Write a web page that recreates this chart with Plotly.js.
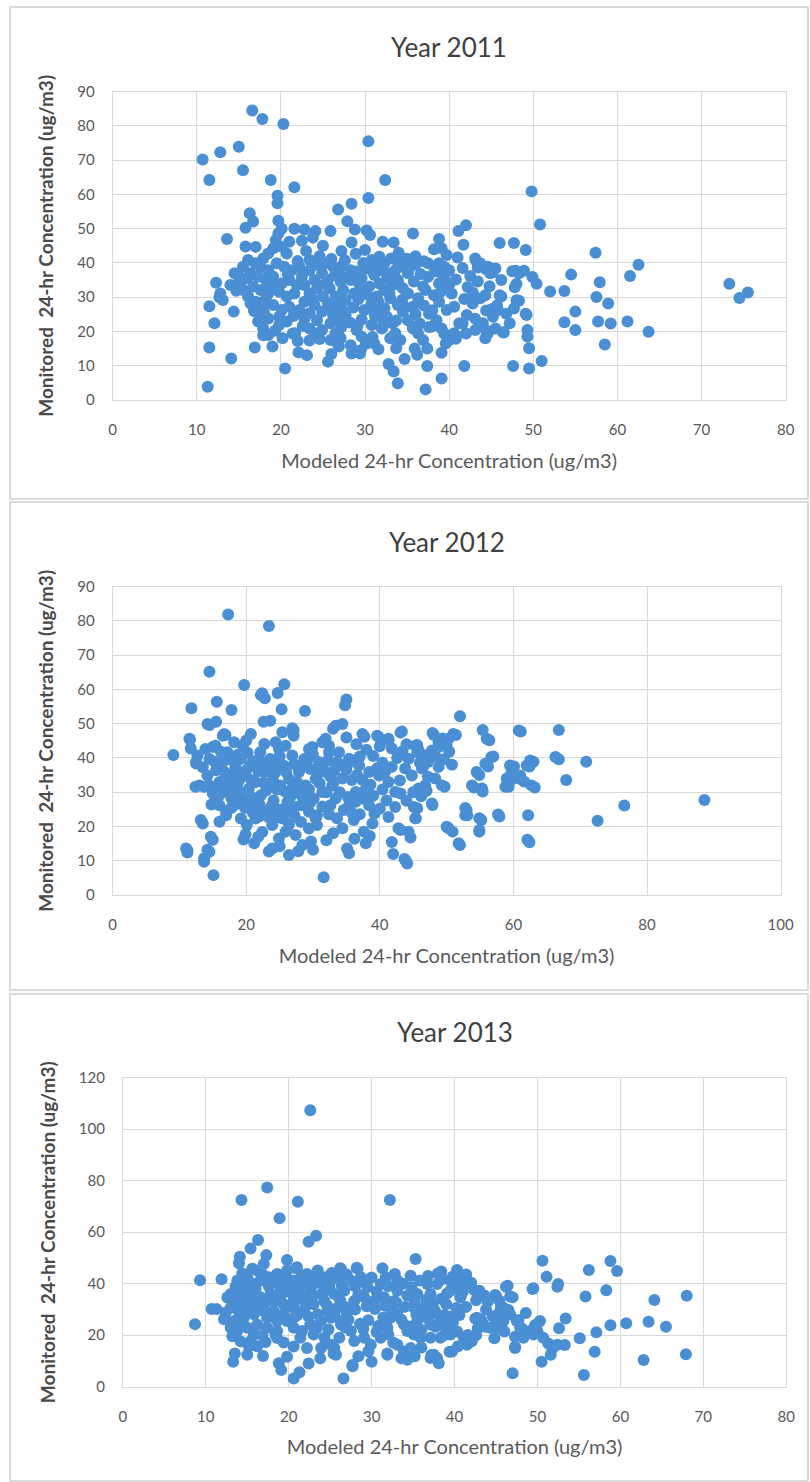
<!DOCTYPE html>
<html>
<head>
<meta charset="utf-8">
<script src="https://cdn.plot.ly/plotly-3.0.1.min.js"></script>
<style>
  html, body { margin: 0; padding: 0; background: #ffffff; }
  #chart { width: 810px; height: 1482px; }
</style>
</head>
<body>
<div id="chart"></div>
<script>
// ---- Data: [modeled, monitored] pairs ----
const years = ["Year 2011", "Year 2012", "Year 2013"];
const xTitle = "Modeled 24-hr Concentration (ug/m3)";
const yTitle = "Monitored  24-hr Concentration (ug/m3)";

const pts2011 = [
[10.7,70.2],[11.5,64.2],[12.8,72.3],[15.0,73.9],[15.5,67.1],[16.6,84.5],[17.8,82.0],[20.3,80.6],[30.4,75.5],[32.4,64.2],
[18.8,64.2],[21.6,62.1],[19.6,59.6],[19.6,57.4],[30.4,59.0],[28.4,57.3],[26.8,55.6],[16.3,54.5],[16.7,52.1],[15.8,50.3],
[19.7,52.3],[20.1,50.0],[21.6,50.0],[22.8,49.8],[24.1,49.3],[25.9,49.3],[27.9,52.2],[28.8,49.8],[30.2,49.5],[30.6,48.2],
[32.1,46.2],[33.4,46.0],[28.4,46.0],[28.9,42.7],[13.6,47.0],[15.8,44.8],[35.7,48.6],[49.8,60.9],[50.8,51.2],[41.1,49.3],
[42.0,51.0],[41.7,45.3],[46.0,45.8],[47.7,45.8],[49.1,43.8],[57.4,43.0],[62.5,39.5],[61.5,36.2],[57.9,34.4],[54.5,36.6],
[53.7,31.8],[52.0,31.7],[50.4,33.9],[49.9,35.9],[57.5,30.1],[58.9,28.2],[55.0,25.8],[53.7,22.7],[57.7,22.9],[59.2,22.3],
[61.2,22.9],[55.0,20.4],[63.7,19.9],[58.5,16.2],[51.0,11.4],[49.5,9.2],[47.6,9.9],[49.2,24.8],[49.3,20.4],[49.3,18.5],
[49.5,15.1],[47.7,26.7],[48.0,29.1],[48.0,33.9],[48.3,37.0],[47.5,37.6],[46.0,30.6],[46.5,19.7],[73.3,33.9],[74.5,29.8],
[75.5,31.4],[41.8,9.9],[37.4,9.9],[37.2,3.1],[39.1,6.3],[39.1,13.8],[33.9,4.9],[33.4,8.3],[32.8,10.5],[33.7,15.1],
[37.4,15.0],[25.6,11.2],[20.5,9.2],[14.1,12.1],[11.5,15.3],[11.3,3.9],[11.5,27.4],[12.1,22.4],[12.3,34.2],[12.8,31.1],
[13.1,29.2],[14.4,25.8],[14.5,37.0],[14.7,31.9],[16.9,15.3],[19.0,15.6],[22.1,13.9],[23.1,13.1],[28.4,13.6],[29.4,13.6],
[26.9,15.6],[21.7,19.5],[12.7,30.0],[17.9,18.9],[23.4,17.4],[21.4,19.4],
[38.8,47.0],[38.2,44.0],[43.2,40.6],[43.4,38.7],[44.4,38.2],[45.2,37.3],[47.9,37.7],[48.9,37.7],[47.8,32.9],[46.2,30.2],
[48.3,29.0],[49.1,25.2],[46.4,19.8],[35.9,15.0],[44.4,26.1],[45.1,26.6],[45.7,27.6],[43.1,23.7],[43.6,21.3],[44.4,20.3],
[41.6,22.3],[42.0,19.4],[40.8,17.9],[39.4,19.4],[39.6,16.5],[37.6,21.3],[37.6,25.2],[35.7,21.3],[36.5,22.3],[33.7,23.2],
[33.3,18.4],[31.7,24.2],[32.1,21.3],[30.9,18.4],[30.1,16.5],[29.5,14.5],[26.6,28.1],[27.2,21.3],[27.0,18.4],[29.1,21.8],
[40.0,17.5],[40.6,19.5],[41.2,22.4],[42.1,24.8],[42.8,28.2],[43.7,29.7],[44.3,30.6],[44.6,19.5],[44.3,18.0],[45.2,24.3],
[45.8,26.3],[43.1,20.4],[44.0,22.4],[45.5,20.9],
[37.5,39.9],[38.2,38.9],[38.8,39.9],[39.4,38.9],[39.7,42.3],[39.1,44.3],[43.1,41.3],[43.7,39.9],[44.6,38.9],[44.9,37.0],
[45.5,38.4],[38.5,37.5],[39.4,36.0],[40.0,37.9],[37.5,36.0],[36.9,33.1],[38.8,34.0],[40.0,33.6],[40.3,31.1],[40.6,27.2],
[39.7,26.3],[38.8,28.7],[38.2,30.6],[37.2,32.1],[36.3,29.7],[35.7,27.2],[35.1,31.1],[34.4,29.2],[34.5,25.8],[35.1,23.3],
[35.7,20.9],[36.3,19.5],[36.9,17.5],[37.9,21.4],[38.5,23.3],[39.1,20.9],
[30.8,40.9],[31.7,41.8],[32.3,39.9],[33.1,41.3],[33.9,40.4],[33.6,37.9],[34.5,38.9],[32.0,37.9],[31.1,36.5],[32.6,35.5],
[33.9,35.0],[35.1,37.0],[35.4,38.9],[31.7,34.0],[30.5,33.1],[32.3,32.1],[33.3,33.6],[34.5,32.6],[29.6,32.1],[31.4,30.2],
[33.0,29.7],[33.9,27.7],[32.3,26.8],[30.8,28.2],[29.9,26.3],[31.2,24.3],[32.6,24.3],[33.3,22.4],[32.0,20.9],[30.8,21.9],
[33.6,19.5],[34.2,17.5],[33.0,18.0],[29.6,18.5],[30.2,16.5],[29.0,20.4],[31.1,16.5],
[23.4,40.9],[24.4,39.4],[25.3,39.9],[26.2,38.9],[27.1,38.9],[28.3,37.9],[29.0,37.5],[29.6,37.9],[26.8,37.0],[24.9,37.0],
[23.4,37.9],[22.5,36.0],[24.0,35.0],[25.6,35.0],[27.1,34.5],[28.3,35.0],[29.3,34.0],[22.8,33.6],[24.3,32.6],[25.8,32.6],
[27.4,32.1],[28.7,31.1],[23.4,31.1],[25.0,30.2],[26.5,30.2],[27.7,29.2],[22.8,28.7],[24.0,27.7],[25.6,28.2],[27.1,27.2],
[22.2,26.3],[23.4,25.3],[24.9,25.8],[26.2,24.8],[27.7,24.8],[22.8,23.8],[24.3,23.3],[25.9,22.4],[27.1,22.9],[23.4,20.9],
[24.9,20.4],[26.5,19.5],[27.1,18.0],[25.9,17.5],[24.0,19.5],[26.8,16.1],
[16.1,40.9],[17.0,39.9],[17.9,41.3],[18.5,42.8],[19.1,44.3],[20.1,44.7],[20.7,42.8],[17.6,38.9],[18.5,37.9],[19.5,39.9],
[20.4,38.9],[21.3,37.9],[22.2,38.9],[17.3,36.0],[18.2,35.0],[19.1,36.0],[20.1,34.0],[21.0,35.0],[21.9,33.6],[16.7,33.1],
[17.6,32.1],[18.5,31.1],[19.8,31.6],[20.7,30.2],[21.6,31.1],[16.1,30.2],[17.0,28.7],[17.9,27.2],[19.1,27.7],[20.1,26.3],
[21.0,27.2],[17.6,24.8],[18.5,23.8],[19.8,24.3],[20.7,22.9],[17.3,22.9],[17.9,20.9],[18.5,19.0],[19.8,21.9],[15.5,32.1],
[15.2,34.0],[16.4,37.0],[15.5,38.9],[17.0,44.7],[19.4,46.7],[21.0,46.2],[19.7,48.6],
[16.8,26.0],[18.2,29.5],[19.5,33.2],[20.8,36.8],[22.0,40.6],[23.0,43.5],[24.6,42.0],[26.0,41.2],[27.6,40.8],[29.8,40.0],
[21.5,24.5],[22.6,21.6],[23.8,29.4],[25.2,33.8],[26.4,36.4],[28.0,36.2],[29.6,35.6],[30.6,38.2],[31.8,38.9],[32.8,37.0],
[26.0,26.6],[27.4,25.9],[28.6,27.0],[29.2,29.4],[30.2,30.8],[31.6,28.6],[32.9,31.0],[34.0,33.9],[35.8,34.6],[36.6,36.8],
[28.2,22.6],[29.6,23.5],[31.0,26.0],[34.8,27.0],[36.0,25.0],[37.0,27.6],[38.0,26.2],[39.0,31.6],[40.8,35.2],[41.6,38.5],
[42.2,33.0],[43.4,34.6],[41.8,29.5],[42.8,31.4],[44.8,33.2],[46.2,35.0],[46.8,25.2],[47.2,22.4],[42.5,36.2],[41.0,41.6],
[36.0,42.0],[37.0,40.5],[36.0,39.6],[35.0,41.2],[34.0,43.0],[30.0,43.8],[27.2,43.5],[25.0,45.0],[22.5,46.5],[23.8,47.4],
[18.8,33.5],[16.0,35.6],[15.0,36.0],[14.0,33.6],[16.4,28.2],[18.0,25.5],[19.3,20.2],[20.2,18.0],[22.0,17.2],[24.6,17.8],
[28.3,16.0],[31.6,14.8],[26.0,13.4],[34.7,12.0],[36.2,13.2]
];

const pts2012 = [
[9.1,40.9],[17.3,81.9],[23.4,78.5],[14.5,65.2],[19.7,61.3],[25.7,61.5],[22.4,58.9],[22.8,57.4],[24.7,59.0],[25.3,54.2],
[15.6,56.4],[17.8,54.0],[11.8,54.5],[28.8,53.7],[35.0,57.1],[34.8,55.4],[27.1,48.2],[14.5,49.6],[15.5,50.6],[22.6,50.6],
[23.6,50.9],[16.9,46.7],[11.6,45.4],[11.7,42.8],[12.5,38.4],[12.4,31.6],[13.7,31.6],[13.5,20.9],[11.2,13.1],[11.2,12.4],
[13.7,9.7],[14.5,12.6],[15.0,16.1],[15.1,5.8],[31.6,5.2],[43.9,10.0],[44.1,9.2],[44.6,16.8],[43.1,19.0],[45.4,22.4],
[45.6,25.3],[52.0,52.2],[51.4,46.7],[48.1,46.7],[49.4,45.7],[50.0,43.8],[50.4,41.8],[43.1,47.4],[45.6,43.8],[45.8,42.3],
[41.3,45.2],[37.7,46.2],[39.8,46.2],[55.4,48.2],[56.4,45.2],[61.1,47.7],[66.8,48.2],[66.8,39.6],[70.9,38.9],[67.9,33.6],
[63.0,38.9],[62.4,37.5],[63.2,31.4],[60.1,37.5],[59.7,35.5],[59.6,33.6],[59.3,31.6],[60.8,34.0],[61.6,33.1],[57.0,40.4],
[56.2,37.5],[54.9,35.0],[54.1,31.4],[55.4,30.2],[49.7,31.6],[47.9,26.3],[53.0,24.8],[53.1,23.3],[55.2,21.9],[54.9,18.5],
[57.9,22.9],[62.2,23.3],[62.4,15.4],[50.3,19.5],[50.9,18.5],[52.0,14.6],[72.6,21.7],[76.6,26.1],[88.6,27.7],[48.9,43.3],
[48.3,40.4],[46.5,37.5],[47.2,34.5],
[22.2,58.4],[13.0,32.0],[13.2,21.9],[11.0,13.6],[13.7,10.7],[14.2,13.2],[14.7,17.0],[21.2,15.1],[23.4,12.7],[23.9,13.6],
[26.4,11.7],[19.9,17.7],[28.4,14.6],[29.7,15.6],[16.0,21.4],[17.0,23.3],[17.7,25.3],[26.7,22.4],[25.9,18.5],[30.4,22.4],
[30.6,20.4],[31.4,44.6],[31.9,45.6],[33.0,48.5],[29.9,43.2],[16.7,47.0],[20.7,47.0],[20.0,45.1],[19.5,43.6],[22.7,44.1],
[11.5,45.6],[15.0,43.2],[12.5,38.8],[26.9,48.7],[14.2,49.9],
[43.3,47.7],[47.9,47.3],[51.0,47.0],[56.0,45.6],[60.8,48.0],[66.3,40.3],[62.5,39.3],[62.0,37.8],[56.7,40.3],[55.8,38.3],
[54.5,35.9],[53.8,32.0],[55.3,31.1],[59.5,37.8],[60.0,35.9],[59.0,34.0],[58.8,31.6],[61.0,34.9],[62.7,32.0],[62.1,16.1],
[57.7,23.5],[52.8,25.4],[52.8,23.3],[54.9,22.4],[54.9,19.0],[50.0,19.9],[51.8,15.1],[43.7,10.5],[49.3,32.0],[47.8,26.7],
[45.1,25.7],[45.3,22.4],[44.3,18.5],[42.8,19.5],[41.3,22.8],[42.3,25.7],[43.1,29.6],[37.6,18.5],[37.9,15.1],[38.9,20.9],
[34.4,19.5],[35.1,13.6],[35.4,12.2],[36.1,21.9],[34.6,24.8],[37.4,47.0],[39.6,46.5],[41.3,45.6],[45.3,43.6],[45.6,41.7],
[44.3,39.8],[46.8,40.7],[47.8,42.2],[48.8,44.6],[50.3,45.6],[33.4,49.4],[34.4,49.9],[32.4,43.6],[33.9,41.7],[35.4,39.8],
[36.9,37.8],[38.4,35.9],[39.9,34.9],[41.3,33.0],[42.3,30.1],[43.8,36.9],[44.8,34.9],[46.3,36.9],[48.8,37.4],[48.3,34.0],
[46.8,32.0],[45.8,31.1],[36.4,30.1],[37.4,28.2],[38.4,26.2],[35.4,26.2],[33.4,28.2],[32.9,32.0],
[13.5,37.3],[14.5,39.7],[14.2,34.9],[15.5,36.4],[16.0,33.0],[16.5,38.8],[17.2,41.7],[17.5,34.9],[18.0,30.1],[18.4,37.3],
[18.7,32.5],[19.2,39.7],[19.4,28.1],[19.9,34.9],[20.4,31.0],[20.6,37.8],[21.2,26.2],[21.4,33.0],[21.9,39.7],[22.2,29.1],
[22.7,35.9],[22.9,24.3],[23.4,32.0],[23.6,39.7],[24.1,27.6],[24.4,35.9],[24.9,42.6],[25.1,32.0],[25.4,22.3],[25.6,37.8],
[26.2,27.2],[26.4,33.9],[26.9,40.7],[27.2,23.3],[27.4,30.1],[27.9,35.9],[28.2,26.2],[28.7,39.7],[28.9,32.0],[29.4,19.4],
[29.6,36.8],[30.1,28.1],[30.4,33.9],[30.9,38.8],[31.4,30.1],[31.9,35.9],[32.4,41.7],[32.6,26.2],[33.1,33.0],[33.6,38.8],
[16.7,30.1],[16.0,26.2],[17.0,24.3],[18.2,26.2],[19.2,22.3],[20.1,20.4],[21.4,22.3],[22.4,18.4],[23.9,20.4],[24.9,16.5],
[26.4,20.4],[28.2,21.3],[27.4,17.5],[29.4,24.3],[30.6,23.3],[14.5,32.0],[12.7,40.7],[13.9,42.6],[15.4,43.6],[16.5,46.5],
[18.2,44.6],[22.1,41.7],[24.4,44.6],[25.9,43.6],[27.1,46.5],[29.4,42.6],[25.4,47.5],
[18.5,29.0],[19.8,25.5],[20.8,28.5],[21.8,36.2],[23.0,30.5],[23.8,26.0],[24.6,30.8],[25.8,25.4],[26.7,29.0],[27.6,33.0],
[28.5,28.5],[19.0,33.8],[20.2,41.5],[22.0,23.0],[24.2,22.5],[17.8,28.2],[15.8,28.6],[16.8,35.8],
[15.2,39.0],[16.2,41.8],[17.8,39.4],[18.8,41.0],[20.0,36.4],[21.0,39.0],[22.4,38.0],[23.2,36.8],[24.4,38.6],[25.0,40.5],
[26.0,35.8],[27.2,38.2],[28.2,37.0],[29.2,39.6],[30.0,41.0],[31.2,37.2],[32.2,39.2],[33.2,36.4],[34.2,38.0],[35.0,36.6],
[35.8,33.6],[36.6,35.0],[37.4,33.6],[38.6,32.2],[39.6,37.0],[40.4,38.6],[40.8,36.0],[41.8,37.4],[42.6,40.0],[43.4,42.0],
[44.0,44.0],[39.0,40.6],[38.0,42.4],[36.5,44.0],[35.0,46.0],[41.8,42.8],[40.0,43.4],[37.0,40.4],[36.0,39.0],[34.4,34.0],
[34.0,30.0],[35.2,28.6],[36.4,27.2],[37.8,30.6],[39.0,29.0],[40.4,30.8],[41.0,27.6],[40.0,25.2],[39.2,23.8],[37.0,23.6],
[35.8,24.0],[33.6,22.4],[32.4,23.6],[31.4,25.8],[31.0,32.6],[32.0,30.0],[29.4,30.8],[28.0,29.6],[27.0,26.0],[26.0,23.2],
[24.6,25.0],[23.4,22.6],[22.0,26.4],[21.0,24.0],[20.0,27.0],[19.0,30.0],[17.6,32.8],[16.4,33.0],[15.4,31.6],[15.0,29.6],
[14.8,26.4],[18.6,35.6],[20.8,33.6],[22.6,32.8],[24.0,33.8],[25.8,30.2],[27.0,31.6],[29.6,27.0],[30.8,35.6],[32.6,34.6],
[19.6,16.2],[21.8,17.0],[25.0,14.2],[27.8,12.8],[30.0,13.2],[33.0,18.0],[32.0,16.0],[36.2,16.4],[38.5,17.2],[41.8,15.5],
[42.0,12.0],[45.0,30.0],[44.0,27.5],[46.2,28.8],[47.0,30.4],[46.0,38.6],[47.2,38.8],[49.6,39.6],[50.8,38.0],[43.0,33.4]
];

const pts2013 = [
[22.6,107.4],[14.3,72.5],[17.4,77.4],[21.1,71.8],[32.2,72.5],[18.9,65.4],[22.4,56.3],[23.3,58.6],[16.3,57.0],[15.4,53.7],
[14.1,50.5],[14.0,47.9],[17.3,51.1],[19.8,49.2],[20.9,46.0],[35.3,49.6],[26.2,46.0],[28.2,46.2],[31.3,46.0],[9.3,41.3],
[11.9,41.7],[8.7,24.3],[10.7,30.2],[11.3,30.2],[13.3,9.7],[13.5,12.9],[16.9,11.9],[18.8,9.1],[19.1,6.5],[20.6,3.2],
[21.3,5.6],[26.6,3.2],[27.7,8.4],[30.0,9.7],[31.9,12.9],[33.6,11.0],[23.8,11.0],[25.4,12.9],[47.0,5.2],[55.6,4.5],
[50.5,9.7],[62.8,10.4],[67.9,12.6],[56.9,13.6],[55.1,18.8],[57.1,21.1],[58.8,23.9],[60.7,24.6],[63.4,25.2],[65.5,23.3],
[64.1,33.7],[68.0,35.3],[55.8,35.0],[56.2,45.3],[58.3,37.5],[58.8,48.8],[59.6,44.9],[50.6,48.9],[51.1,42.7],[52.5,39.9],
[52.4,38.8],[49.5,38.2],[53.4,26.5],[52.6,22.7],[51.3,16.8],[51.8,14.9],[53.3,16.2],[49.7,23.9],[50.0,21.4],[47.7,25.9],
[48.1,22.7],[47.3,19.4],[47.3,15.5],[46.2,38.8],[46.7,35.0],[45.6,31.1],[46.5,29.8],[44.9,35.6],[43.7,23.3],[45.0,25.2],
[42.8,25.9],[42.8,22.7],[42.5,26.5],[42.4,37.5],[40.3,45.3],[40.5,42.1],[41.2,39.5],[40.8,35.6],[39.1,36.2],[38.4,44.7],
[38.0,44.0],[39.4,13.6],[38.1,9.1],[37.2,12.3],[40.3,21.4],[41.6,20.1],[41.9,17.5],[37.7,23.3],[38.8,20.1],[39.4,27.2],
[38.8,27.8],
[15.2,15.7],[16.2,15.7],[15.0,12.4],[18.4,20.3],[18.6,18.9],[25.5,15.0],
[13.0,36.0],[13.8,37.3],[14.8,38.6],[15.8,39.9],[16.6,41.2],[17.6,42.5],[18.6,43.8],[19.8,45.1],[21.0,46.4],[22.2,43.8],
[23.5,45.1],[24.3,42.5],[24.9,38.6],[23.9,36.0],[22.6,37.3],[21.4,36.0],[20.2,36.6],[19.0,37.3],[17.8,36.0],[16.6,34.7],
[15.4,33.3],[14.2,32.0],[13.0,30.7],[12.4,28.8],[13.4,25.5],[14.6,26.8],[15.8,28.1],[17.0,29.4],[18.2,29.4],[19.4,28.1],
[20.6,30.7],[21.8,29.4],[23.0,32.0],[24.3,33.3],[25.5,36.0],[26.1,42.5],[25.9,30.7],[25.1,26.8],[23.9,25.5],[22.6,24.2],
[21.6,21.6],[20.6,22.9],[19.8,25.5],[18.6,25.5],[17.4,26.8],[16.2,24.2],[15.0,22.9],[13.8,21.6],[13.0,22.9],[15.8,20.3],
[15.4,17.7],[21.4,19.0],[23.0,20.3],[24.3,19.0],[25.1,16.3],[23.9,15.0],[22.2,15.0],[26.3,24.2],[26.1,19.0],[25.7,12.4],
[13.8,41.2],[15.0,42.5],[16.2,45.1],[17.0,47.7],[18.2,41.2],[19.4,39.9],[20.6,41.2],[21.6,39.9],[23.0,39.9],[18.2,33.3],
[19.4,32.0],[17.0,32.0],[20.6,33.3],[22.0,33.3],[15.8,36.0],[14.6,36.0],[13.6,33.3],[17.4,22.9],[18.6,21.6],[20.6,26.8],
[23.5,28.1],[24.7,29.4],
[26.3,45.8],[28.3,45.8],[28.7,42.5],[31.7,42.5],[34.7,43.1],[39.7,39.9],[40.7,38.6],[43.0,37.3],[45.0,35.3],[46.4,39.2],
[47.0,34.7],[49.4,37.9],[25.1,41.2],[25.5,28.1],[26.3,25.5],
[27.5,21.6],[27.9,17.7],[29.1,19.0],[29.9,16.3],[31.1,19.0],[31.9,22.9],[32.3,26.8],[33.1,28.1],[33.9,24.2],[34.3,21.6],
[35.1,20.3],[35.5,25.5],[36.3,28.1],[37.1,24.2],[37.9,28.1],[38.7,26.8],[39.1,22.9],[39.5,20.3],[38.3,19.0],[37.1,19.0],
[35.9,19.0],[34.7,15.0],[33.9,13.7],[33.1,16.3],[31.9,12.4],[34.3,10.5],[36.3,30.7],[35.1,30.7],[32.7,33.3],[31.5,34.7],
[30.3,33.3],[29.1,34.7],[27.9,33.3],[26.7,37.3],[27.5,41.2],[29.5,38.6],[31.1,39.9],[33.1,37.3],[34.3,35.3],[35.5,36.0],
[37.1,36.0],[37.9,39.9],[39.5,37.3],[40.7,34.7],[36.7,39.9],[33.1,41.2],
[42.7,26.8],[43.5,24.2],[44.3,22.9],[45.1,22.9],[45.9,25.5],[45.5,29.4],[45.9,30.7],[46.7,28.1],[47.5,25.5],[47.9,22.9],
[48.3,19.0],[47.3,15.0],[49.1,21.6],[49.9,24.2],[50.3,25.5],[49.5,20.3],[50.7,19.0],[51.6,12.4],[51.8,15.0],[52.4,16.3],
[42.1,17.7],[41.5,16.3],[41.1,19.0],[39.7,13.7],[37.9,11.1],[37.1,11.1],[37.5,12.4],[27.7,7.9],
[14.4,44.0],[15.6,45.8],[16.8,43.8],[17.6,39.0],[18.6,40.4],[19.6,42.8],[20.4,38.6],[21.6,43.2],[22.4,41.6],[23.2,42.8],
[24.0,40.2],[25.2,44.2],[26.4,39.4],[27.0,43.6],[28.0,39.0],[29.0,40.8],[30.0,42.4],[30.6,37.0],[32.0,39.0],[32.8,43.8],
[33.8,40.0],[34.8,38.6],[35.8,41.2],[36.8,43.0],[38.6,41.8],[39.8,42.8],[41.4,43.6],[42.0,40.4],[41.0,37.0],[38.4,34.2],
[37.4,32.4],[36.6,33.8],[35.2,33.0],[34.0,31.0],[33.0,32.6],[31.6,31.4],[30.4,30.2],[29.4,31.2],[28.4,35.8],[28.0,30.0],
[27.0,28.8],[27.2,26.0],[28.6,24.4],[29.6,25.8],[30.8,23.6],[31.4,26.8],[32.4,29.6],[33.6,26.0],[34.8,23.4],[36.0,22.0],
[36.8,26.4],[38.2,24.2],[39.8,24.8],[40.6,27.8],[41.4,31.0],[42.6,33.6],[43.8,30.0],[44.6,27.4],[44.0,33.0],[40.2,30.6],
[39.0,32.0],[37.6,29.6],[35.4,27.8],[32.0,20.4],[30.6,21.2],[29.0,22.4],[26.8,23.0],[24.8,22.2],[23.4,22.8],[22.4,27.2],
[21.0,27.6],[20.0,31.4],[19.0,34.8],[17.6,33.6],[16.4,31.2],[15.2,30.4],[14.0,29.0],[14.4,24.2],[16.8,20.0],[17.2,17.4],
[19.4,17.2],[20.6,15.6],[21.0,34.0],[22.8,34.8],[24.6,31.6],[26.2,33.6],[26.8,31.0],[24.2,36.6],[22.0,31.0],[16.0,38.0],
[13.6,39.0],[12.6,34.6],[12.2,26.2],[13.2,19.6],[14.2,17.6],[19.8,11.6],[22.4,9.0],[28.4,11.8],[29.6,13.8],[36.0,15.2],
[35.2,11.8],[40.4,15.6],[42.6,20.0],[44.8,18.8],[46.0,21.4],[45.4,33.4],[43.6,35.4],[48.6,28.6],[43.2,26.0],[32.6,17.2]
];

// ---- Derived series for the library ----
const series = [pts2011, pts2012, pts2013];
const xMax = [80, 100, 80];
const yMax = [90, 90, 120];
const xStep = [10, 20, 10];
const yStep = [10, 10, 20];

// ---- Layout geometry (pixels in the 810 x 1482 page) ----
const W = 810, H = 1482;
const plotBox = [
  {l: 112.6, r: 785.7, t: 91.7,  b: 400.0},
  {l: 112.6, r: 780.6, t: 586.7, b: 895.0},
  {l: 122.9, r: 786.2, t: 1077.7, b: 1386.7}
];
const titleY = [46.7, 541.7, 1031.7];
const panelBox = [
  {l: 10, r: 808, t: 7,   b: 499},
  {l: 10, r: 808, t: 502, b: 990},
  {l: 10, r: 808, t: 994, b: 1481}
];
const fx = v => v / W;
const fy = v => 1 - v / H;

const FONT = 'Lato, "Open Sans", Arial, sans-serif';
const markerColor = '#4A8FD4';
const gridColor = '#D9D9D9';
const tickColor = '#595959';

const traces = series.map((pts, i) => ({
  type: 'scatter',
  mode: 'markers',
  x: pts.map(p => p[0]),
  y: pts.map(p => p[1]),
  xaxis: i === 0 ? 'x' : 'x' + (i + 1),
  yaxis: i === 0 ? 'y' : 'y' + (i + 1),
  marker: {color: markerColor, size: 12, line: {width: 0}},
  cliponaxis: false,
  hoverinfo: 'x+y',
  showlegend: false
}));

const layout = {
  width: W, height: H,
  margin: {l: 0, r: 0, t: 0, b: 0},
  paper_bgcolor: '#ffffff',
  plot_bgcolor: 'rgba(0,0,0,0)',
  font: {family: FONT, color: tickColor},
  showlegend: false,
  annotations: [],
  shapes: []
};

for (let i = 0; i < 3; i++) {
  const b = plotBox[i];
  const sx = i === 0 ? '' : String(i + 1);
  layout['xaxis' + sx] = {
    domain: [fx(b.l), fx(b.r)],
    anchor: 'y' + sx,
    range: [0, xMax[i]],
    dtick: xStep[i], tick0: 0,
    showgrid: true, gridcolor: gridColor, gridwidth: 1,
    zeroline: false,
    showline: true, linecolor: gridColor, linewidth: 1, mirror: true,
    ticks: '', ticklabelstandoff: 16,
    tickfont: {family: FONT, size: 15, color: tickColor},
    fixedrange: true,
    title: {text: xTitle, font: {family: FONT, size: 20, color: tickColor}, standoff: 16}
  };
  layout['yaxis' + sx] = {
    domain: [fy(b.b), fy(b.t)],
    anchor: 'x' + sx,
    range: [0, yMax[i]],
    dtick: yStep[i], tick0: 0,
    showgrid: true, gridcolor: gridColor, gridwidth: 1,
    zeroline: false,
    showline: true, linecolor: gridColor, linewidth: 1, mirror: true,
    ticks: '', ticklabelstandoff: 14,
    tickfont: {family: FONT, size: 15, color: tickColor},
    fixedrange: true,
    title: {text: yTitle, font: {family: FONT, size: 19, color: '#4A4A4A', weight: 'bold'}, standoff: 18}
  };
  layout.annotations.push({
    xref: 'paper', yref: 'paper',
    x: fx((b.l + b.r) / 2), y: fy(titleY[i]),
    xanchor: 'center', yanchor: 'middle',
    text: years[i], showarrow: false,
    font: {family: FONT, size: 26, color: '#404040'}
  });
  const p = panelBox[i];
  layout.shapes.push({
    type: 'rect', xref: 'paper', yref: 'paper', layer: 'below',
    x0: fx(p.l), x1: fx(p.r), y0: fy(p.b), y1: fy(p.t),
    line: {color: '#D0D0D0', width: 1.5}, fillcolor: 'rgba(0,0,0,0)'
  });
}

Plotly.newPlot('chart', traces, layout, {displayModeBar: false, staticPlot: true});
</script>
</body>
</html>
